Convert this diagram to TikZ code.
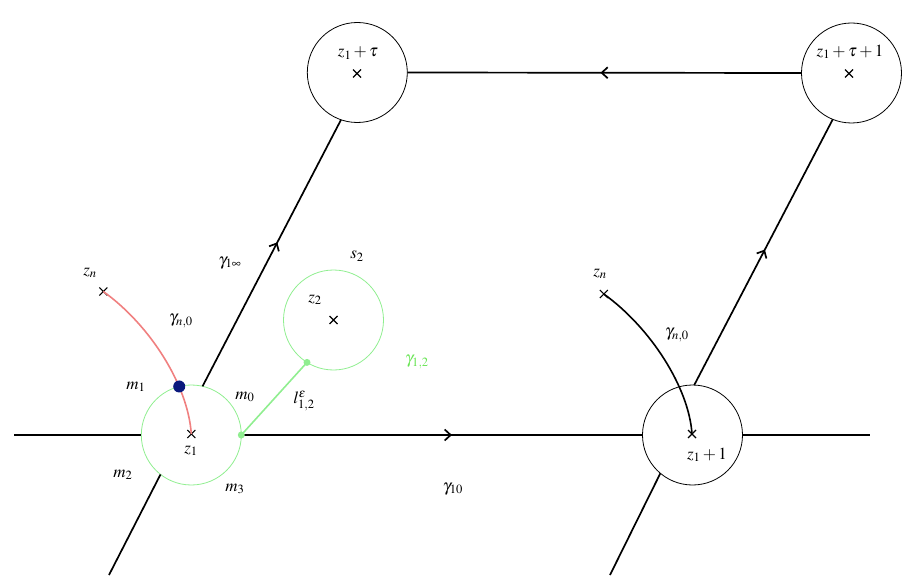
\documentclass[tikz,border=0pt]{standalone}
\usepackage{mathptmx}
\usetikzlibrary{arrows.meta,decorations.markings,shapes.misc}
\definecolor{lgreen}{RGB}{144,238,144}
\definecolor{tgreen}{RGB}{105,228,85}
\definecolor{lred}{RGB}{240,128,128}
\definecolor{dblue}{RGB}{10,25,125}
\begin{document}
\begin{tikzpicture}[x=1pt,y=-1pt,
  font=\fontsize{17}{20}\selectfont,
  bigcirc/.style={circle,draw=black,line width=0.8pt,minimum size=100pt,inner sep=0pt,outer sep=0pt},
  grcirc/.style={circle,draw=lgreen,line width=0.8pt,minimum size=100pt,inner sep=0pt,outer sep=0pt},
  xmark/.style={cross out,draw=black,line width=1.1pt,minimum size=8pt,inner sep=0pt,outer sep=0pt},
  lbl/.style={inner sep=0pt},
  thickline/.style={line width=1.7pt,black},
  midarrow/.style={postaction={decorate},decoration={markings,mark=at position #1 with {\arrow{Straight Barb[length=6pt,width=11pt]}}}},
  gdot/.style={circle,fill=lgreen,minimum size=7pt,inner sep=0pt},
]
\useasboundingbox (0,0) rectangle (913,588);

% circles
\node[grcirc] (z1c) at (191.3,435) {};
\node[bigcirc] (z1p1) at (692.5,435) {};
\node[bigcirc] (zt) at (357.3,72.5) {};
\node[bigcirc] (ztp1) at (851.5,73) {};
\node[grcirc] (z2c) at (333.5,320) {};

% crosses
\node[xmark] (x1) at (191.3,434) {};
\node[xmark] (x1p1) at (692,434) {};
\node[xmark] (xt) at (357,73.5) {};
\node[xmark] (xtp1) at (849,73.5) {};
\node[xmark] (x2) at (333.5,320) {};
\node[xmark] (xnl) at (103.3,291.5) {};
\node[xmark] (xnr) at (603.8,294) {};

% free ends
\coordinate (Lend) at (14,435);
\coordinate (Rend) at (870,435);
\coordinate (LL) at (109,575);
\coordinate (RL) at (610,575);

% black lines
\draw[thickline] (Lend) -- (z1c.west);
\draw[thickline,midarrow=0.525] (z1c.east) -- (z1p1.west);
\draw[thickline] (z1p1.east) -- (Rend);
\draw[thickline,midarrow=0.51] (ztp1.west) -- (zt.east);
\draw[thickline] (LL) -- (z1c.232);
\draw[thickline,midarrow=0.54] (z1c.77) -- (zt.251.5);
\draw[thickline] (RL) -- (z1p1.230.7);
\draw[thickline,midarrow=0.51] (z1p1.88) -- (ztp1.248.6);

% curves
\draw[line width=1.6pt,lred] (xnl.center) .. controls (150,325) and (188,385) .. (x1.center);
\draw[line width=1.6pt,black] (xnr.center) .. controls (651,328) and (689,388) .. (x1p1.center);

% green segment
\draw[line width=1.6pt,lgreen] (z1c.east) -- (z2c.238);
\node[gdot] (ga) at (z1c.east) {};
\node[gdot] (gb) at (z2c.238) {};

% blue dot
\node[circle,fill=dblue,minimum size=12pt,inner sep=0pt] (bd) at (z1c.104) {};

% labels
\node[lbl] (lznl) at (90,273) {$z_n$};
\node[lbl] (lgnl) at (181,321) {$\gamma_{n,0}$};
\node[lbl] (lginf) at (230,263) {$\gamma_{1\infty}$};
\node[lbl] (ls2) at (357,256) {$s_2$};
\node[lbl] (lz2) at (315,300) {$z_2$};
\node[lbl,text=tgreen] (lg12) at (417,362) {$\gamma_{1,2}$};
\node[lbl] (lle) at (304,401) {$l^{\varepsilon}_{1,2}$};
\node[lbl] (lm1) at (136,387) {$m_1$};
\node[lbl] (lm0) at (245,397) {$m_0$};
\node[lbl] (lm2) at (123,475) {$m_2$};
\node[lbl] (lm3) at (235,489) {$m_3$};
\node[lbl] (lz1) at (191,451) {$z_1$};
\node[lbl] (lg10) at (453,489) {$\gamma_{10}$};
\node[lbl] (lznr) at (600,274) {$z_n$};
\node[lbl] (lgnr) at (677,335) {$\gamma_{n,0}$};
\node[lbl] (lz1p1) at (707,455) {$z_1+1$};
\node[lbl] (lzt) at (358,53) {$z_1+\tau$};
\node[lbl] (lztp1) at (850,52) {$z_1+\tau+1$};
\end{tikzpicture}
\end{document}
